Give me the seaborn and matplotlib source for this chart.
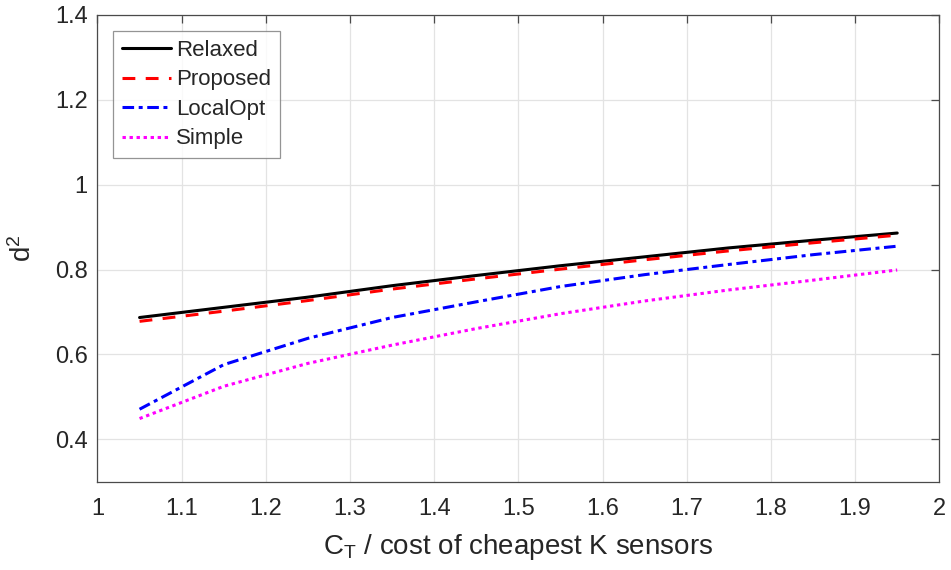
import matplotlib
matplotlib.use("Agg")
import matplotlib.pyplot as plt
import seaborn as sns
import pandas as pd

# Budget ratio C_T / cost of cheapest K sensors
budget_ratio = [1.05, 1.15, 1.25, 1.35, 1.45, 1.55, 1.65, 1.75, 1.85, 1.95]

relaxed = [0.687, 0.711, 0.735, 0.762, 0.786, 0.809, 0.830, 0.851, 0.869, 0.886]
proposed = [0.678, 0.702, 0.727, 0.754, 0.778, 0.801, 0.823, 0.844, 0.863, 0.881]
local_opt = [0.471, 0.576, 0.638, 0.687, 0.724, 0.760, 0.788, 0.812, 0.835, 0.855]
simple = [0.449, 0.525, 0.579, 0.622, 0.661, 0.696, 0.726, 0.752, 0.775, 0.799]

series_names = ["Relaxed", "Proposed", "LocalOpt", "Simple"]
series_values = [relaxed, proposed, local_opt, simple]

x_ticks = [1, 1.1, 1.2, 1.3, 1.4, 1.5, 1.6, 1.7, 1.8, 1.9, 2]
x_tick_labels = ["1", "1.1", "1.2", "1.3", "1.4", "1.5", "1.6", "1.7", "1.8", "1.9", "2"]
y_ticks = [0.4, 0.6, 0.8, 1.0, 1.2, 1.4]
y_tick_labels = ["0.4", "0.6", "0.8", "1", "1.2", "1.4"]

sns.set_style("white")
plt.rcParams["font.family"] = ["Liberation Sans", "DejaVu Sans"]
plt.rcParams["mathtext.fontset"] = "custom"
plt.rcParams["mathtext.rm"] = "Liberation Sans"
plt.rcParams["mathtext.it"] = "Liberation Sans"

frames = []
for name, vals in zip(series_names, series_values):
    frames.append(pd.DataFrame({"ratio": budget_ratio, "d2": vals, "method": name}))
df = pd.concat(frames, ignore_index=True)

styles = {
    "Relaxed": dict(color="#000000", dashes=None),
    "Proposed": dict(color="#ff0000", dashes=(4.2, 3.4)),
    "LocalOpt": dict(color="#0000ff", dashes=(3.8, 1.5, 1.3, 1.5)),
    "Simple": dict(color="#ff00ff", dashes=(1.1, 1.2)),
}

fig = plt.figure(figsize=(9.51, 5.70), dpi=100)
ax = fig.add_axes([0.1025, 0.1547, 0.8852, 0.8193])

for name in series_names:
    sub = df[df["method"] == name]
    st = styles[name]
    sns.lineplot(data=sub, x="ratio", y="d2", ax=ax, color=st["color"],
                 linewidth=2.2, label=name, legend=False)
    line = ax.get_lines()[-1]
    if st["dashes"] is not None:
        line.set_dashes(st["dashes"])

ax.set_xlim(1, 2)
ax.set_ylim(0.3, 1.4)
ax.set_xticks(x_ticks)
ax.set_xticklabels(x_tick_labels)
ax.set_yticks(y_ticks)
ax.set_yticklabels(y_tick_labels)

axis_color = "#262626"
ax.grid(True, color="#e3e3e3", linewidth=0.9)
ax.set_axisbelow(True)
for sp in ax.spines.values():
    sp.set_visible(True)
    sp.set_color("#4a4a4a")
    sp.set_linewidth(0.9)
ax.tick_params(axis="both", which="both", direction="in", length=6, width=0.9,
               color="#4a4a4a", labelsize=17, labelcolor=axis_color,
               top=True, right=True)
ax.tick_params(axis="x", pad=12)
ax.tick_params(axis="y", pad=7)

ax.set_xlabel(r"C$_\mathregular{T}$ / cost of cheapest K sensors", fontsize=20,
              color=axis_color, labelpad=8)
ax.set_ylabel(r"d$^\mathregular{2}$", fontsize=20, color=axis_color, labelpad=13)

handles, labels = ax.get_legend_handles_labels()
leg = ax.legend(handles, labels, loc="upper left", bbox_to_anchor=(0.0184, 0.965),
                fontsize=16, frameon=True, fancybox=False, edgecolor="#7a7a7a",
                handlelength=2.2, handletextpad=0.25, borderpad=0.4,
                labelspacing=0.38, borderaxespad=0.0)
leg.get_frame().set_linewidth(0.9)

fig.savefig("out.png", dpi=100, facecolor="white")
